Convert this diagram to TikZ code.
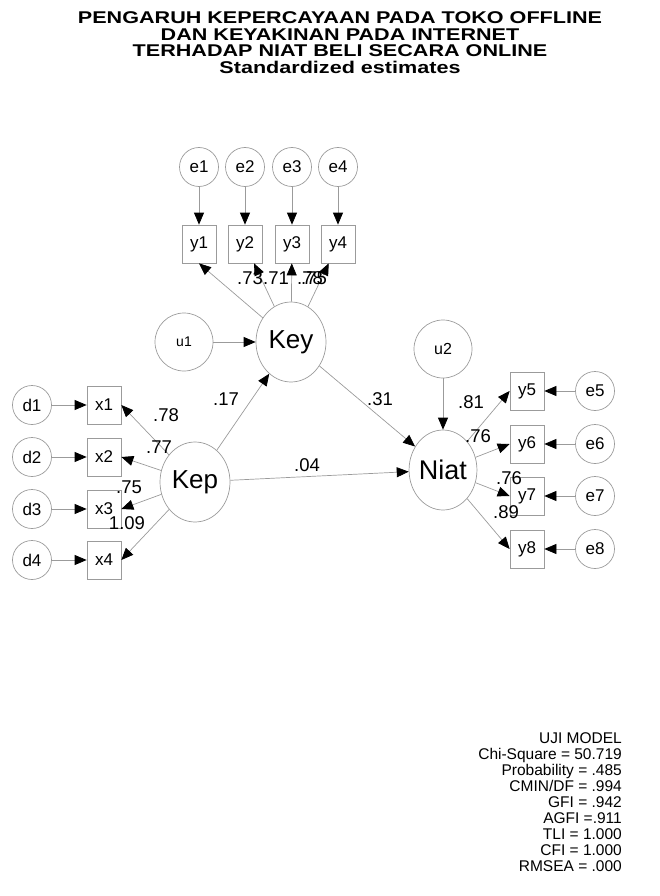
\documentclass[tikz,border=0pt]{standalone}
\usepackage{fontspec}
\setmainfont{Liberation Sans}
\usetikzlibrary{arrows.meta,shapes.geometric}
\definecolor{edgegray}{RGB}{155,155,155}
\newcommand{\widebold}[1]{\scalebox{1.27}[1]{#1}}
\tikzset{
  obs/.style={rectangle, draw=edgegray, line width=0.7pt, minimum width=34pt,
    minimum height=38pt, inner sep=0pt, font=\fontsize{17}{17}\selectfont},
  err/.style={circle, draw=edgegray, line width=0.7pt, minimum size=39pt,
    inner sep=0pt, font=\fontsize{17}{17}\selectfont},
  dist/.style={circle, draw=edgegray, line width=0.7pt, minimum size=58pt, inner sep=0pt},
  latent/.style={ellipse, draw=edgegray, line width=0.7pt, minimum width=70pt,
    minimum height=80pt, inner sep=0pt, font=\fontsize{26}{26}\selectfont},
  reg/.style={draw=edgegray, line width=0.7pt,
    -{Triangle[length=12pt,width=10pt,color=black,fill=black]}},
  est/.style={inner sep=0pt, font=\fontsize{18.5}{18.5}\selectfont},
  headline/.style={inner sep=0pt, anchor=base, font=\bfseries\fontsize{17}{17}\selectfont},
  stat/.style={inner sep=0pt, anchor=base east, font=\fontsize{15.5}{16}\selectfont},
}
\begin{document}
\begin{tikzpicture}[x=1pt,y=-1pt]
\useasboundingbox (0,0) rectangle (660,896);

% title
\node[headline] (t1) at (340,24) {\widebold{PENGARUH KEPERCAYAAN PADA TOKO OFFLINE}};
\node[headline] (t2) at (340,40.5) {\widebold{DAN KEYAKINAN PADA INTERNET}};
\node[headline] (t3) at (340,57) {\widebold{TERHADAP NIAT BELI SECARA ONLINE}};
\node[headline] (t4) at (340,73.5) {\widebold{Standardized estimates}};

% indicators of Key
\foreach \i/\x in {1/199,2/245,3/292,4/338}{
  \node[err] (e\i) at (\x,167) {e\i};
  \node[obs] (y\i) at (\x,244) {y\i};
}

% latent variables and disturbances
\node[latent] (Key) at (291,342) {Key};
\node[dist, font=\fontsize{14}{14}\selectfont] (u1) at (184,342) {u1};
\node[latent] (Kep) at (195,482) {Kep};
\node[latent, minimum width=67pt, font=\fontsize{27}{27}\selectfont] (Niat) at (443,470) {Niat};
\node[dist, font=\fontsize{16}{16}\selectfont] (u2) at (443,349) {u2};

% indicators of Kep
\foreach \i/\y in {1/405,2/457,3/509,4/560}{
  \node[err] (d\i) at (32,\y) {d\i};
  \node[obs] (x\i) at (104,\y) {x\i};
}

% indicators of Niat
\foreach \i/\y in {5/391,6/444,7/496,8/549}{
  \node[obs] (y\i) at (527,\y) {y\i};
  \node[err] (e\i) at (595,\y) {e\i};
}

% paths
\foreach \i in {1,...,4}{
  \draw[reg] (e\i) -- (y\i);
  \draw[reg] (d\i) -- (x\i);
  \draw[reg] (Kep) -- (x\i.east);
}
\draw[reg] (Key) -- (y1.south);
\draw[reg] (Key) -- (y2);
\draw[reg] (Key) -- (y3);
\draw[reg] (Key) -- (y4);
\foreach \i in {5,...,8}{
  \draw[reg] (e\i) -- (y\i);
  \draw[reg] (Niat) -- (y\i.west);
}
\draw[reg] (u1) -- (Key);
\draw[reg] (u2) -- (Niat);
\draw[reg] (Kep) -- (Key);
\draw[reg] (Key) -- (Niat);
\draw[reg] (Kep) -- (Niat);

% standardized estimates
\node[est] (l1) at (250,278) {.73};
\node[est] (l2) at (276,278) {.71};
\node[est] (l3) at (310,278) {.78};
\node[est] (l4) at (314,278) {.75};
\node[est] (b1) at (226,399) {.17};
\node[est] (b2) at (380,399) {.31};
\node[est] (b3) at (307,465) {.04};
\node[est] (k1) at (166,415) {.78};
\node[est] (k2) at (159,447) {.77};
\node[est] (k3) at (129,487) {.75};
\node[est] (k4) at (127,523) {1.09};
\node[est] (n1) at (471,402) {.81};
\node[est] (n2) at (478,436) {.76};
\node[est] (n3) at (509,478) {.76};
\node[est] (n4) at (506,512) {.89};

% fit statistics
\foreach \t [count=\i from 0] in {UJI MODEL,Chi-Square = 50.719,Probability = .485,
  CMIN/DF = .994,GFI = .942,AGFI =.911,TLI = 1.000,CFI = 1.000,RMSEA = .000}{
  \node[stat] (fit\i) at (622,743.5+16*\i) {\t};
}
\end{tikzpicture}
\end{document}
